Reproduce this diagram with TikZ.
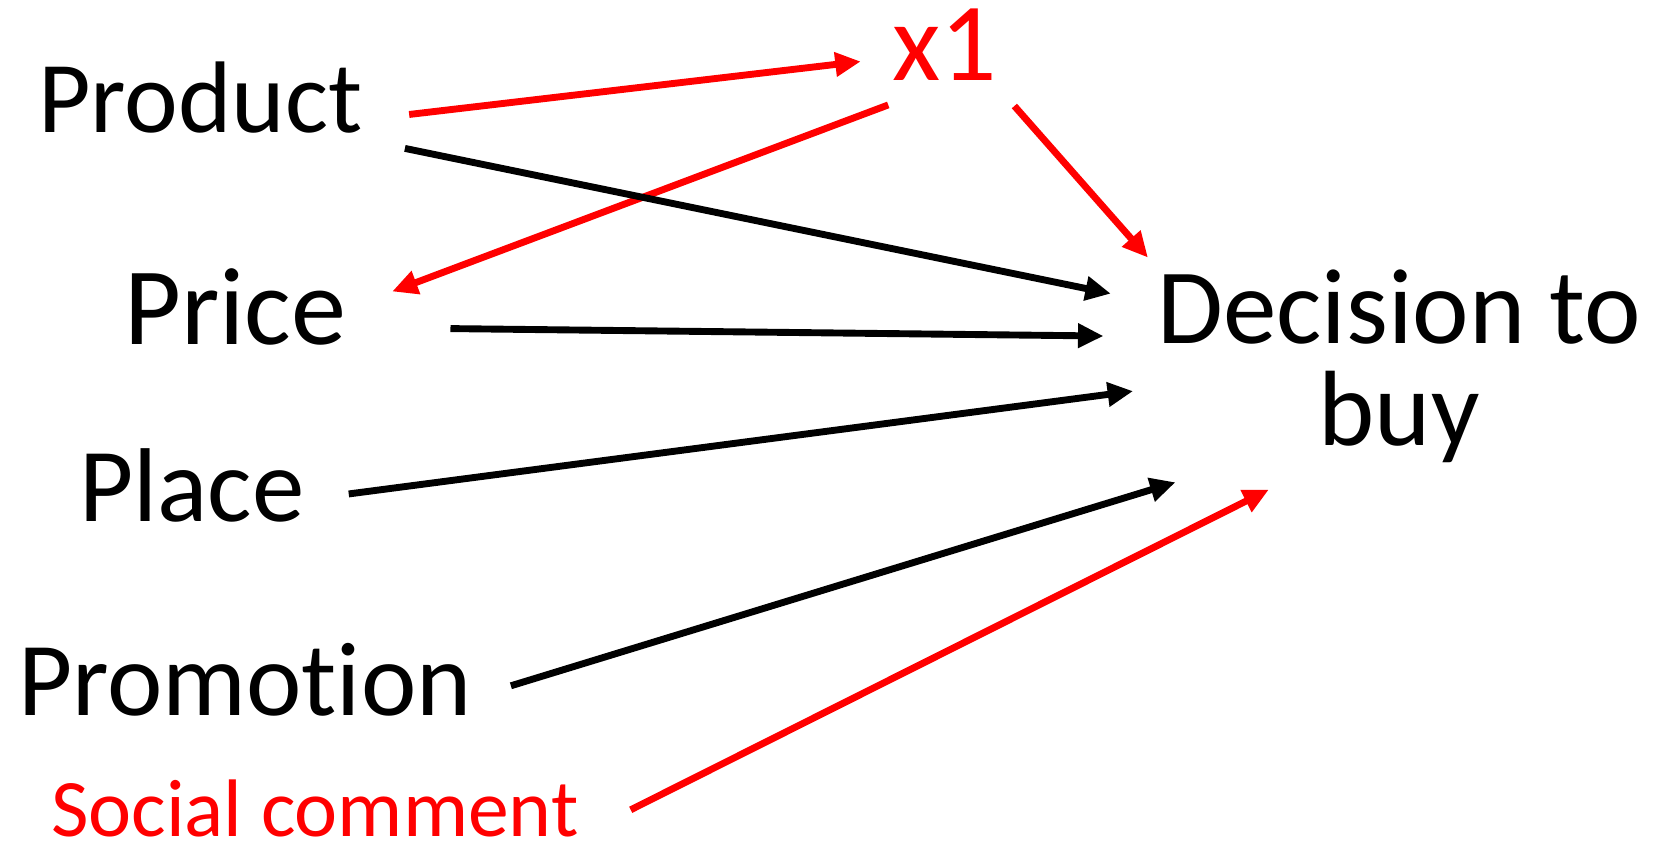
\documentclass[tikz,border=0pt]{standalone}
\usepackage{fontspec}
\setmainfont[Ligatures={NoCommon,NoRare,NoContextual}]{Carlito}
\usetikzlibrary{arrows.meta,calc}
\definecolor{pured}{RGB}{255,0,0}
\newcommand{\fs}[1]{\fontsize{#1}{#1}\selectfont}
\tikzset{
  lbl/.style={inner sep=0pt, anchor=base},
  link/.style={line width=6.5pt, -{Triangle[length=24pt,width=22pt]}},
  blk/.style={link, draw=black},
  rd/.style={link, draw=pured, fill=pured},
}
\begin{document}
\begin{tikzpicture}[x=1pt,y=1pt]
\useasboundingbox (0,0) rectangle (1568,-796);
% factor labels
\node[lbl] (product) at (189,-125) {\fs{96}Product};
\node[lbl] (price) at (222,-325) {\fs{104}Price};
\node[lbl] (place) at (181,-492) {\fs{99}Place};
\node[lbl] (promo) at (231,-675) {\fs{99}Promo\mbox{t}\mbox{i}on};
\node[lbl, text=pured] (social) at (297,-789) {\fs{77}Social comment};
\node[lbl, text=pured] (x1) at (891,-76) {\fs{105}x1};
% outcome
\node[lbl] (dec) at (1320,-324) {\fs{101}Decision to};
\node[lbl] (buy) at (1320,-420) {\fs{101}buy};
% red links through x1
\draw[rd] ($(product.base)+(197,17)$) -- ($(x1.base)+(-79,18)$);
\draw[rd] ($(x1.base)+(-53,-23)$) -- ($(price.base)+(148,50)$);
\draw[rd] ($(x1.base)+(66,-24)$) -- ($(dec.base)+(-237,81)$);
% direct links
\draw[blk] ($(product.base)+(193,-15)$) -- ($(dec.base)+(-272,47)$);
\draw[blk] ($(price.base)+(203,15)$) -- ($(dec.base)+(-279,7)$);
\draw[blk] ($(place.base)+(148,26)$) -- ($(dec.base)+(-251,-45)$);
\draw[blk] ($(promo.base)+(251,28)$) -- ($(dec.base)+(-211,-131)$);
\draw[rd] ($(social.base)+(298,25)$) -- ($(dec.base)+(-123,-138)$);
\end{tikzpicture}
\end{document}
